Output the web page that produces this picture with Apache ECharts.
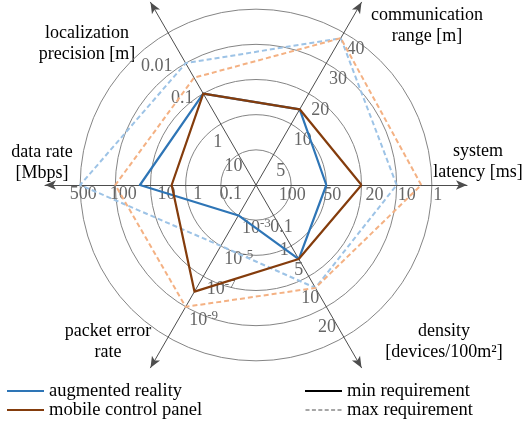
<!DOCTYPE html>
<html>
<head>
<meta charset="utf-8">
<script src="https://cdn.jsdelivr.net/npm/echarts@6/dist/echarts.min.js"></script>
<style>html,body{margin:0;padding:0;background:#fff}#c{width:522px;height:425px}</style>
</head>
<body>
<div id="c"></div>
<script>
// ---- data ----
const indicatorNames = ['system\nlatency [ms]', 'communication\nrange [m]', 'localization\nprecision [m]', 'data rate\n[Mbps]', 'packet error\nrate', 'density\n[devices/100m²]'];
// tick values on rings 1..n for each axis
const latencyTicks = [100, 50, 20, 10, 1];
const rangeTicks = [5, 10, 20, 30, 40];
const localizationTicks = [10, 1, 0.1, 0.01];
const dataRateTicks = [0.1, 1, 10, 100, 500];
const packetErrorTicks = [1e-3, 1e-5, 1e-7, 1e-9];
const densityTicks = [0.1, 1, 5, 10, 20];
// values in axis order: latency, range, localization, data rate, packet error, density
const arMin = [50, 14, 0.1, 20, 1e-3, 2];
const arMax = [10, 38, 0.01, 500, 1e-5, 6.5];
const mcpMin = [20, 14, 0.1, 2.5, 1e-8, 2];
const mcpMax = [2, 38, 0.03, 100, 1e-9, 6.5];

const axisTicks = [latencyTicks, rangeTicks, localizationTicks, dataRateTicks, packetErrorTicks, densityTicks];

const BLUE = '#2E75B6', BROWN = '#843C0C', LBLUE = '#9DC3E6', LORANGE = '#F4B183';
const FONT = "'Liberation Serif', 'DejaVu Serif', serif";
const TICK_COLOR = '#666666';

function ringPos(v, ticks) {
  const L = Math.log10;
  for (let i = 0; i < ticks.length - 1; i++) {
    const a = ticks[i], b = ticks[i + 1];
    if ((v - a) * (v - b) <= 0) return i + 1 + (L(v) - L(a)) / (L(b) - L(a));
  }
  return ticks.length;
}
function toPos(vals) { return vals.map((v, i) => ringPos(v, axisTicks[i])); }

function tickText(t, i) {
  if (i === 4) return '{b|10}{sup|' + Math.round(Math.log10(t)) + '}';
  return String(t);
}

// label placement per axis (style/layout only)
const centred = { margin: 0, align: 'center', verticalAlign: 'middle' };
const labelPlacement = [
  centred,
  { margin: -3, align: 'left', verticalAlign: 'top', padding: [6, 0, 0, 0] },
  centred,
  centred,
  { margin: 4, align: 'left', verticalAlign: 'top' },
  centred
];
// per-ring label offsets (px) for centred labels
const labelOffsets = {
  0: [[1, 10], [6, 10], [13, 10], [10, 10], [6, 10]],
  2: [[-5, 12], [-3, 18], [-21, 5], [-29, 3]],
  3: [[10, 9], [12, 9], [16, 9], [8, 9], [3, 9]],
  5: [[8, 12], [-7, 4], [-10, -6], [-16, -9], [-17, -10]]
};

function offsetRich(offs) {
  const rich = {};
  offs.forEach((o, k) => {
    const dx = o[0] * 2, dy = o[1] * 2;
    rich['o' + (k + 1)] = {
      fontSize: 18, fontFamily: FONT, color: TICK_COLOR,
      padding: [Math.max(dy, 0), Math.max(-dx, 0), Math.max(-dy, 0), Math.max(dx, 0)]
    };
  });
  return rich;
}

const indicators = indicatorNames.map((n, i) => {
  const labels = axisTicks[i].map(t => tickText(t, i));
  const offs = labelOffsets[i];
  const lab = Object.assign({}, labelPlacement[i], {
    formatter: function (value) {
      const k = Math.round(value);
      if (k < 1 || k > labels.length) return '';
      return offs ? '{o' + k + '|' + labels[k - 1] + '}' : labels[k - 1];
    }
  });
  if (offs) lab.rich = offsetRich(offs);
  return { name: n, min: 0, max: 6, axisLabel: lab };
});

const nameLayout = [[478, 162], [427, 26], [87, 44], [42, 163], [108, 342], [444, 342]];

const dashIcon = 'path://M0,0h4v2h-4zM6.4,0h4v2h-4zM12.8,0h4v2h-4zM19.2,0h4v2h-4zM25.6,0h4v2h-4zM32,0h4v2h-4z';

const legendText = { fontFamily: FONT, fontSize: 18.5, color: '#000', lineHeight: 19 };

const chart = echarts.init(document.getElementById('c'));
chart.setOption({
  animation: false,
  backgroundColor: '#fff',
  radar: {
    center: [256, 185],
    radius: 211,
    startAngle: 0,
    shape: 'circle',
    splitNumber: 6,
    indicator: indicators,
    axisName: { show: false },
    axisLine: { lineStyle: { color: '#4d4d4d', width: 1 }, symbol: ['none', 'arrow'], symbolSize: [7, 11] },
    axisTick: { show: false },
    axisLabel: {
      show: true, color: TICK_COLOR, fontSize: 18, fontFamily: FONT,
      rich: {
        b: { fontSize: 18, fontFamily: FONT, color: TICK_COLOR, lineHeight: 20, verticalAlign: 'bottom' },
        sup: { fontSize: 13, fontFamily: FONT, color: TICK_COLOR, lineHeight: 13, verticalAlign: 'top' }
      }
    },
    splitLine: { lineStyle: { color: ['rgba(0,0,0,0)', '#858585', '#858585', '#858585', '#858585', '#858585', 'rgba(0,0,0,0)'], width: 1 } },
    splitArea: { show: false }
  },
  legend: [
    {
      orient: 'vertical', left: 7, top: 381.5, padding: 0, itemWidth: 37, itemHeight: 2, itemGap: 0,
      selectedMode: false, itemStyle: { borderWidth: 0 }, textStyle: legendText,
      data: [
        { name: 'augmented reality', icon: 'rect', itemStyle: { color: BLUE } },
        { name: 'mobile control panel', icon: 'rect', itemStyle: { color: BROWN } }
      ]
    },
    {
      orient: 'vertical', left: 305, top: 381.5, padding: 0, itemWidth: 37, itemHeight: 2, itemGap: 0,
      selectedMode: false, itemStyle: { borderWidth: 0 }, textStyle: legendText,
      data: [
        { name: 'min requirement', icon: 'rect', itemStyle: { color: '#000' } },
        { name: 'max requirement', icon: dashIcon, itemStyle: { color: '#A6A6A6' } }
      ]
    }
  ],
  graphic: indicatorNames.map((n, i) => ({
    type: 'text', x: nameLayout[i][0], y: nameLayout[i][1], silent: true,
    style: { text: n, fill: '#000', fontSize: 18, fontFamily: FONT, align: 'center', verticalAlign: 'middle', lineHeight: 21 }
  })),
  series: [
    {
      type: 'radar', symbol: 'none', silent: true,
      data: [
        { name: 'augmented reality (max)', value: toPos(arMax), itemStyle: { color: LBLUE }, lineStyle: { color: LBLUE, width: 2, type: [5, 3] } },
        { name: 'mobile control panel (max)', value: toPos(mcpMax), itemStyle: { color: LORANGE }, lineStyle: { color: LORANGE, width: 2, type: [5, 3] } }
      ]
    },
    {
      type: 'radar', symbol: 'none', silent: true,
      data: [
        { name: 'augmented reality', value: toPos(arMin), itemStyle: { color: BLUE }, lineStyle: { color: BLUE, width: 2.2 } },
        { name: 'mobile control panel', value: toPos(mcpMin), itemStyle: { color: BROWN }, lineStyle: { color: BROWN, width: 2.2 } }
      ]
    },
    {
      type: 'radar', symbol: 'none', silent: true,
      data: [
        { name: 'min requirement', value: [0, 0, 0, 0, 0, 0], itemStyle: { color: '#000' }, lineStyle: { opacity: 0 } },
        { name: 'max requirement', value: [0, 0, 0, 0, 0, 0], itemStyle: { color: '#A6A6A6' }, lineStyle: { opacity: 0 } }
      ]
    }
  ]
});
</script>
</body>
</html>
